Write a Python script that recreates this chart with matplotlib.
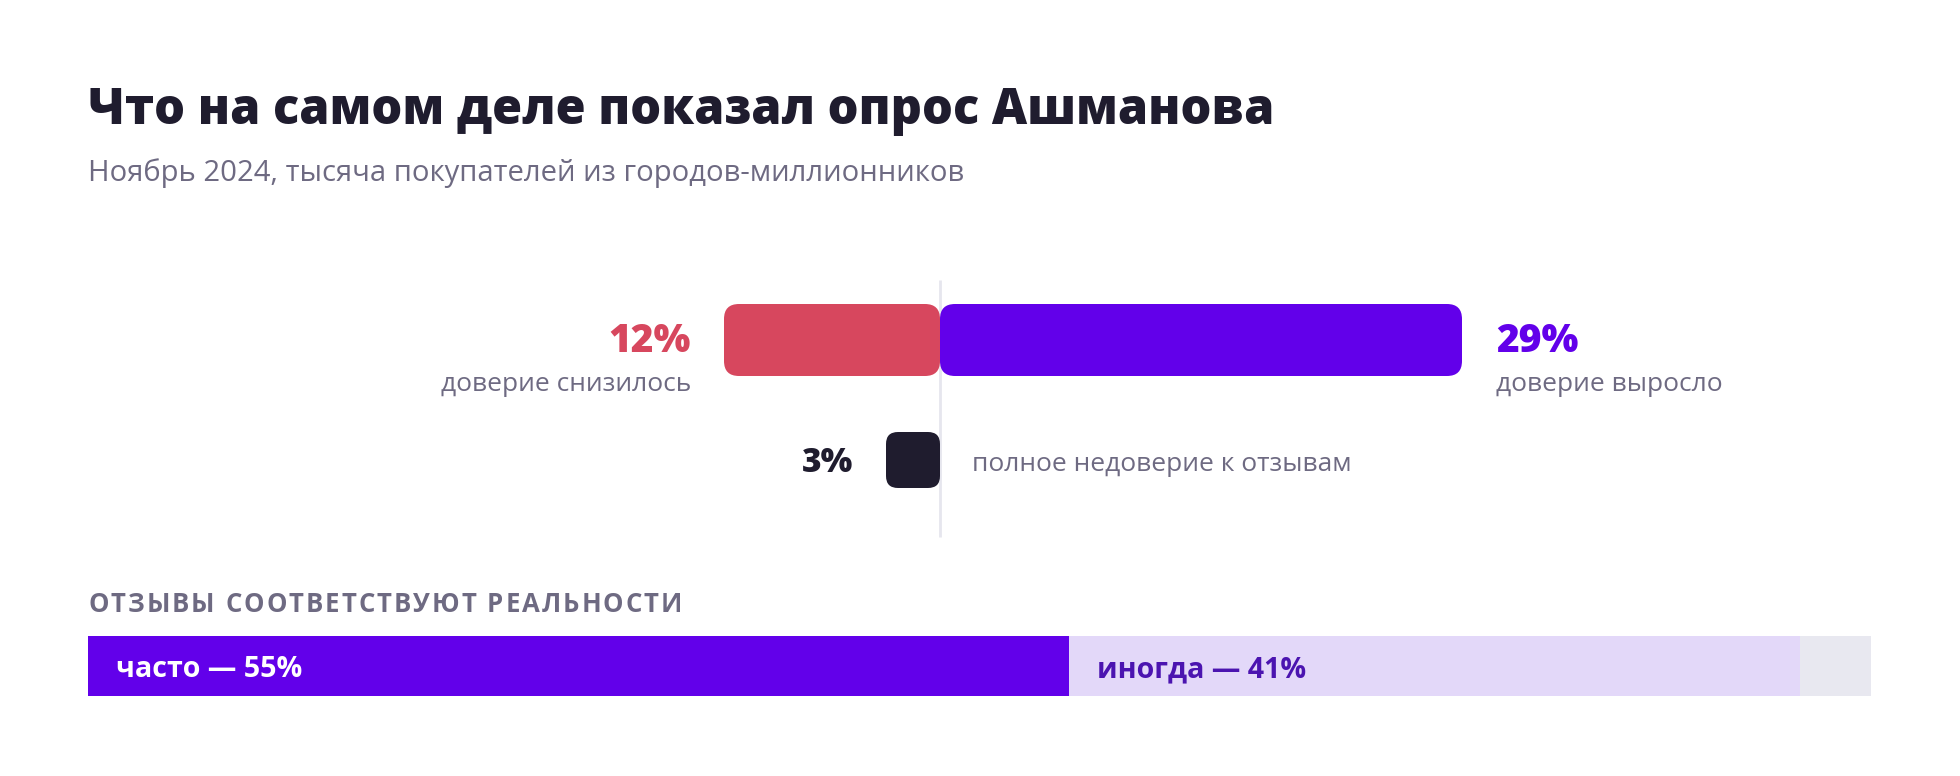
import matplotlib
matplotlib.use("Agg")
import matplotlib.pyplot as plt
from matplotlib.patches import FancyBboxPatch

# ------------------------------------------------------------------
# Data (share of respondents, %)
# ------------------------------------------------------------------
trust_labels = ["доверие снизилось", "доверие выросло"]
trust_values = [12, 29]
distrust_label = "полное недоверие к отзывам"
distrust_values = [3]
match_labels = ["часто", "иногда"]
match_values = [55, 41]

TITLE = "Что на самом деле показал опрос Ашманова"
SUBTITLE = "Ноябрь 2024, тысяча покупателей из городов-миллионников"
SECTION = "Отзывы соответствуют реальности"

# ------------------------------------------------------------------
# Style
# ------------------------------------------------------------------
INK = "#1f1c2e"
MUTED = "#6e6a82"
RED = "#d7475e"
VIOLET = "#6200ea"
LILAC = "#e3d8f9"
TRACK = "#e8e8f0"
LILAC_TEXT = "#4b14b0"
AXIS_LINE = "#e6e6ee"

W, H = 1960, 776
PX_PER_PCT = 18      # scale of the diverging chart
CENTER_X = 940       # zero line, px from left
ROW_TREND_Y = 340    # px from top
ROW_TREND_H = 72
ROW_NONE_Y = 460
ROW_NONE_H = 56

plt.rcParams["font.family"] = ["Open Sans", "DejaVu Sans"]


def rounded_bar(ax, left, width, yc, height, color, radius_px):
    """Bar with rounded corners; x in %, y in px (mutation_aspect fixes the radius)."""
    box = FancyBboxPatch(
        (left, yc - height / 2), width, height,
        boxstyle=f"round,pad=0,rounding_size={radius_px / PX_PER_PCT}",
        mutation_aspect=PX_PER_PCT, fc=color, ec="none", lw=0, zorder=3,
    )
    ax.add_patch(box)


def spaced_text(fig, x_px, y_px, s, spacing_px, **kw):
    """Draw text char by char to emulate CSS letter-spacing."""
    r = fig.canvas.get_renderer()
    x = x_px
    for ch in s:
        t = fig.text(x / W, 1 - y_px / H, ch, va="baseline", ha="left", **kw)
        w = t.get_window_extent(renderer=r).width
        x += w + spacing_px


fig = plt.figure(figsize=(W / 100, H / 100), dpi=100)
fig.patch.set_facecolor("white")

# diverging part: x in percent, y in pixels from the top
ax = fig.add_axes([0, 0, 1, 1])
ax.set_xlim(-CENTER_X / PX_PER_PCT, (W - CENTER_X) / PX_PER_PCT)
ax.set_ylim(H, 0)
ax.axis("off")

ax.vlines(0, 280, 537, color=AXIS_LINE, lw=2, zorder=1)

down, up = trust_values
rounded_bar(ax, -down, down, ROW_TREND_Y, ROW_TREND_H, RED, 15)
rounded_bar(ax, 0, up, ROW_TREND_Y, ROW_TREND_H, VIOLET, 15)
rounded_bar(ax, -distrust_values[0], distrust_values[0], ROW_NONE_Y, ROW_NONE_H, INK, 12)

big = dict(fontsize=28, fontweight="heavy", va="baseline", textcoords="offset pixels")
small = dict(fontsize=19, color=MUTED, va="baseline", textcoords="offset pixels")

ax.annotate(f"{down}%", (-down, ROW_TREND_Y), xytext=(-33, -12), ha="right", color=RED, **big)
ax.annotate(trust_labels[0], (-down, ROW_TREND_Y), xytext=(-33, -51), ha="right", **small)
ax.annotate(f"{up}%", (up, ROW_TREND_Y), xytext=(34, -12), ha="left", color=VIOLET, **big)
ax.annotate(trust_labels[1], (up, ROW_TREND_Y), xytext=(34, -51), ha="left", **small)

big["fontsize"] = 24
ax.annotate(f"{distrust_values[0]}%", (-distrust_values[0], ROW_NONE_Y), xytext=(-33, -12),
            ha="right", color=INK, **big)
ax.annotate(distrust_label, (0, ROW_NONE_Y), xytext=(32, -11), ha="left", **small)

# headings
fig.text(88 / W, 1 - 124 / H, TITLE, fontsize=35, fontweight="heavy", color=INK, va="baseline")
fig.text(88 / W, 1 - 181 / H, SUBTITLE, fontsize=21.1, color=MUTED, va="baseline")
spaced_text(fig, 88, 612, SECTION.upper(), 2.0, fontsize=18.5, fontweight="bold", color=MUTED)

# stacked bar
ax2 = fig.add_axes([88 / W, 1 - 696 / H, 1783 / W, 60 / H])
ax2.set_xlim(0, 100)
ax2.set_ylim(-0.5, 0.5)
ax2.axis("off")
ax2.barh(0, 100, height=1, color=TRACK, lw=0)
seg_colors = [VIOLET, LILAC]
text_colors = ["white", LILAC_TEXT]
left = 0
for lab, val, c, tc in zip(match_labels, match_values, seg_colors, text_colors):
    ax2.barh(0, val, left=left, height=1, color=c, lw=0)
    ax2.annotate(f"{lab} — {val}%", (left, 0), xytext=(28, -11), textcoords="offset pixels",
                 ha="left", va="baseline", fontsize=20.6, fontweight="bold", color=tc)
    left += val

fig.savefig("out.png", dpi=100, facecolor="white")
